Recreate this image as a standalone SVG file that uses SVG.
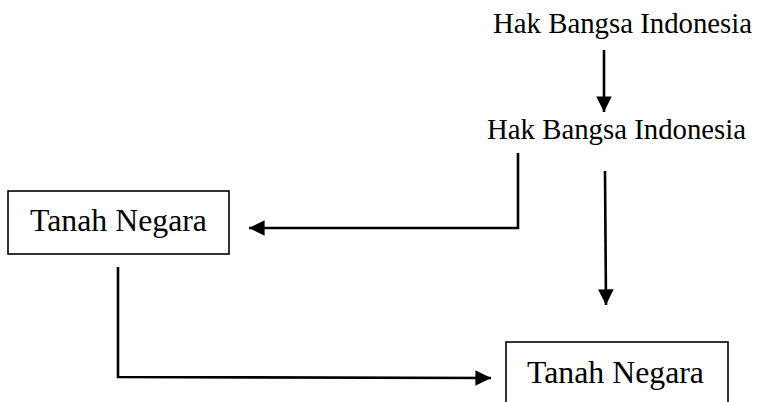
<svg xmlns="http://www.w3.org/2000/svg" width="759" height="402" viewBox="0 0 759 402">
  <style>
    .lbl { font-family: "Liberation Serif", "Times New Roman", serif; fill: #000; }
    .hak { font-size: 28.8px; }
    .tanah { font-size: 31.8px; }
    .box { fill: #fff; stroke: #000; stroke-width: 1.6; }
    .wire { fill: none; stroke: #000; stroke-width: 2.6; }
  </style>
  <defs>
    <marker id="head" viewBox="0 0 10 10" refX="10" refY="5" markerWidth="6" markerHeight="6" markerUnits="strokeWidth" orient="auto">
      <path d="M0,0 L10,5 L0,10 Z" fill="#000"/>
    </marker>
  </defs>
  <rect width="759" height="402" fill="#fff"/>

  <g id="hak-top">
    <text class="lbl hak" x="493" y="33">Hak Bangsa Indonesia</text>
  </g>
  <g id="hak-mid">
    <text class="lbl hak" x="487" y="139">Hak Bangsa Indonesia</text>
  </g>
  <g id="tanah-left">
    <rect class="box" x="8" y="191" width="221" height="63"/>
    <text class="lbl tanah" x="30" y="231">Tanah Negara</text>
  </g>
  <g id="tanah-bottom">
    <rect class="box" x="506" y="342" width="222" height="80"/>
    <text class="lbl tanah" x="527" y="383">Tanah Negara</text>
  </g>

  <g id="connectors">
    <path class="wire" d="M604,50 L604,112" marker-end="url(#head)"/>
    <path class="wire" d="M518,153 L518,228 L249,228" marker-end="url(#head)"/>
    <path class="wire" d="M605,171 L606,305" marker-end="url(#head)"/>
    <path class="wire" d="M118,267 L118,377 L491,378" marker-end="url(#head)"/>
  </g>
</svg>
